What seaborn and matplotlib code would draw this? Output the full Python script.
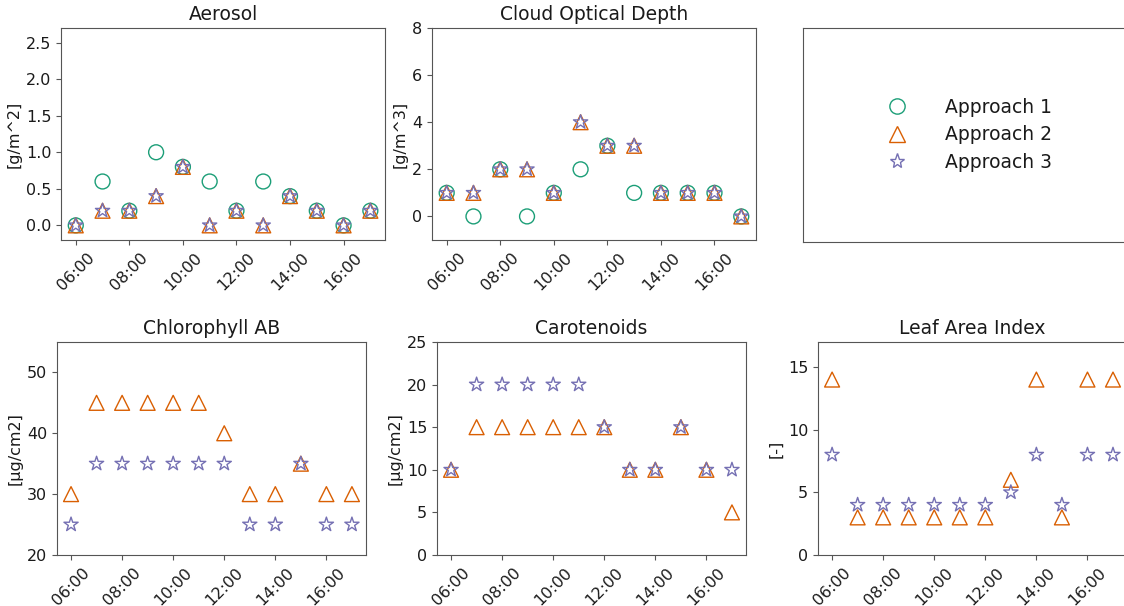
import matplotlib
matplotlib.use("Agg")
import matplotlib.pyplot as plt
import matplotlib.dates as mdates
from matplotlib.lines import Line2D
import numpy as np
import pandas as pd
import seaborn as sns

# ---- data -------------------------------------------------------------
times = ["06:00", "07:00", "08:00", "09:00", "10:00", "11:00",
         "12:00", "13:00", "14:00", "15:00", "16:00", "17:00"]
approaches = ["Approach 1", "Approach 2", "Approach 3"]
nan = np.nan

aerosol_a1 = [0.0, 0.6, 0.2, 1.0, 0.8, 0.6, 0.2, 0.6, 0.4, 0.2, 0.0, 0.2]
aerosol_a2 = [0.0, 0.2, 0.2, 0.4, 0.8, 0.0, 0.2, 0.0, 0.4, 0.2, 0.0, 0.2]
aerosol_a3 = [0.0, 0.2, 0.2, 0.4, 0.8, 0.0, 0.2, 0.0, 0.4, 0.2, 0.0, 0.2]

cod_a1 = [1, 0, 2, 0, 1, 2, 3, 1, 1, 1, 1, 0]
cod_a2 = [1, 1, 2, 2, 1, 4, 3, 3, 1, 1, 1, 0]
cod_a3 = [1, 1, 2, 2, 1, 4, 3, 3, 1, 1, 1, 0]

chl_a1 = [nan] * 12
chl_a2 = [30, 45, 45, 45, 45, 45, 40, 30, 30, 35, 30, 30]
chl_a3 = [25, 35, 35, 35, 35, 35, 35, 25, 25, 35, 25, 25]

car_a1 = [nan] * 12
car_a2 = [10, 15, 15, 15, 15, 15, 15, 10, 10, 15, 10, 5]
car_a3 = [10, 20, 20, 20, 20, 20, 15, 10, 10, 15, 10, 10]

lai_a1 = [nan] * 12
lai_a2 = [14, 3, 3, 3, 3, 3, 3, 6, 14, 3, 14, 14]
lai_a3 = [8, 4, 4, 4, 4, 4, 4, 5, 8, 4, 8, 8]

panels = [
    ("Aerosol", "[g/m^2]", (aerosol_a1, aerosol_a2, aerosol_a3), (-0.2, 2.7), np.arange(0, 2.51, 0.5)),
    ("Cloud Optical Depth", "[g/m^3]", (cod_a1, cod_a2, cod_a3), (-1, 8), [0, 2, 4, 6, 8]),
    ("Chlorophyll AB", "[\u03bcg/cm2]", (chl_a1, chl_a2, chl_a3), (20, 55), [20, 30, 40, 50]),
    ("Carotenoids", "[\u03bcg/cm2]", (car_a1, car_a2, car_a3), (0, 25), [0, 5, 10, 15, 20, 25]),
    ("Leaf Area Index", "[-]", (lai_a1, lai_a2, lai_a3), (0, 17), [0, 5, 10, 15]),
]

# ---- style ------------------------------------------------------------
sns.set_style("ticks", {"axes.edgecolor": "#555555",
                        "xtick.color": "#555555", "ytick.color": "#555555",
                        "text.color": "#1a1a1a", "axes.labelcolor": "#1a1a1a"})
plt.rcParams["font.family"] = ["DejaVu Sans"]
plt.rcParams["xtick.labelcolor"] = "#1a1a1a"
plt.rcParams["ytick.labelcolor"] = "#1a1a1a"
plt.rcParams["xtick.major.size"] = 3.5
plt.rcParams["ytick.major.size"] = 3.5
palette = dict(zip(approaches, sns.color_palette("Dark2", 3)))
markers = dict(zip(approaches, ["o", "^", "*"]))
mlw = 1.0

fig = plt.figure(figsize=(11.24, 6.06), dpi=100)

# axes rectangles (left, bottom, width, height) in figure fractions
rects = [
    (0.0543, 0.6040, 0.2883, 0.3498),
    (0.3843, 0.6040, 0.2883, 0.3498),
    (0.0507, 0.0842, 0.2749, 0.3515),
    (0.3888, 0.0842, 0.2749, 0.3515),
    (0.7278, 0.0842, 0.2749, 0.3515),
]
legend_rect = (0.7144, 0.6010, 0.2883, 0.3528)

base_day = "2020-06-01 "
t = pd.to_datetime([base_day + s for s in times])

for (title, ylabel, series, ylim, yticks), rect in zip(panels, rects):
    ax = fig.add_axes(rect)
    frames = []
    for name, vals in zip(approaches, series):
        frames.append(pd.DataFrame({"time": t, "value": vals, "approach": name}))
    df = pd.concat(frames, ignore_index=True).dropna()
    sns.scatterplot(data=df, x="time", y="value", hue="approach", style="approach",
                    palette=palette, markers=markers, hue_order=approaches,
                    style_order=approaches, s=115, linewidth=mlw, legend=False, ax=ax)
    # hollow markers: move fill colour onto the outline
    for coll in ax.collections:
        fc = coll.get_facecolors()
        coll.set_edgecolors(fc)
        coll.set_facecolors("none")
        coll.set_linewidths(mlw)
    ax.set_title(title, fontsize=13.5)
    ax.set_ylabel(ylabel, fontsize=11.5, labelpad=3)
    ax.set_xlabel("")
    ax.set_ylim(*ylim)
    ax.set_yticks(yticks)
    ax.xaxis.set_major_locator(mdates.HourLocator(byhour=range(6, 18, 2)))
    ax.xaxis.set_major_formatter(mdates.DateFormatter("%H:%M"))
    ax.tick_params(axis="x", labelrotation=45, labelsize=11.5)
    ax.tick_params(axis="y", labelsize=11.5)
    for lab in ax.get_xticklabels():
        lab.set_ha("center")
    ax.margins(x=0.05)

# legend-only panel
lax = fig.add_axes(legend_rect)
lax.set_xticks([])
lax.set_yticks([])
handles = [Line2D([], [], ls="", marker=markers[a], markersize=11,
                  markerfacecolor="none", markeredgecolor=palette[a],
                  markeredgewidth=mlw) for a in approaches]
lax.legend(handles, approaches, loc="center", frameon=False, fontsize=13.5,
           handletextpad=1.6, labelspacing=0.45)

fig.savefig("out.png", dpi=100)
